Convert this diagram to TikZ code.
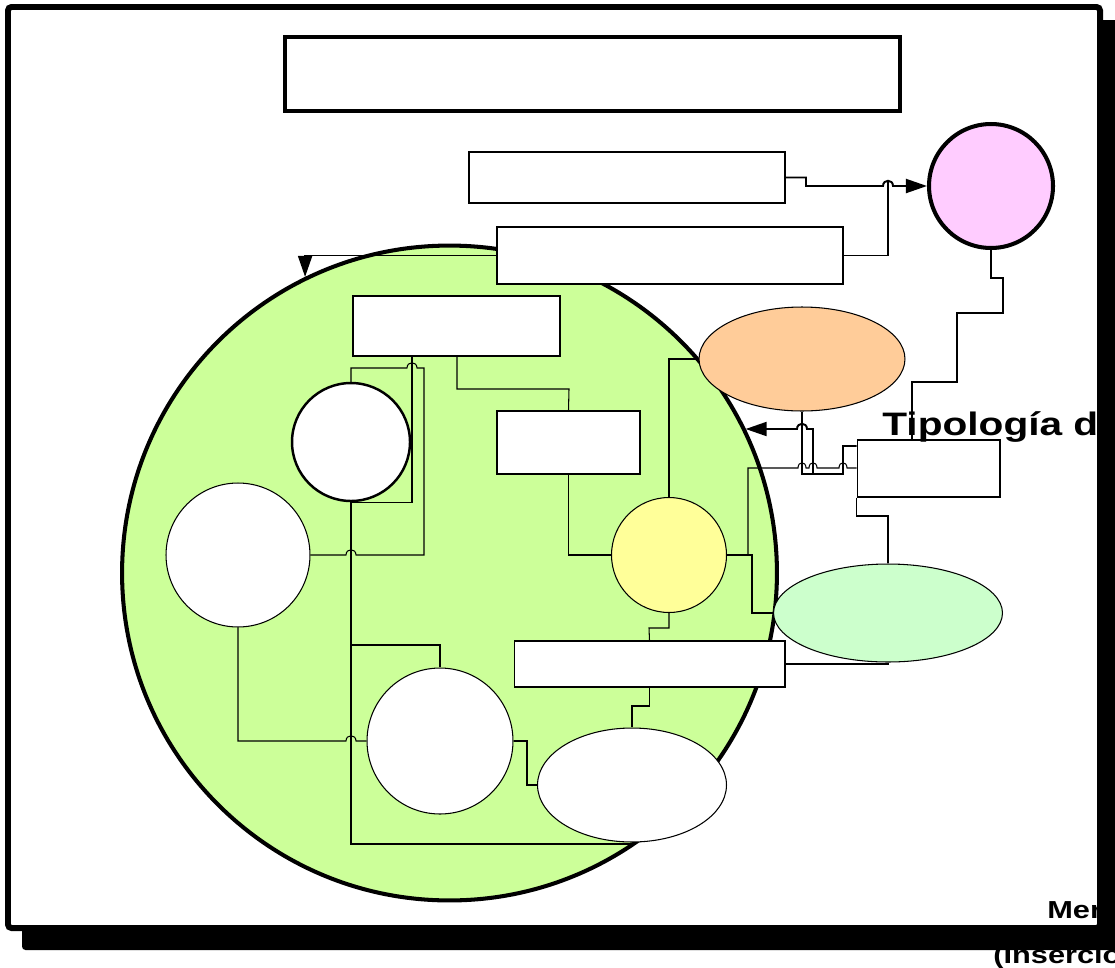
\documentclass[tikz,border=0pt]{standalone}
\usepackage{fontspec}
\newfontfamily\tagfont[FakeStretch=1.25]{Liberation Sans}
\usetikzlibrary{shapes.geometric,arrows.meta}
\definecolor{pinkfill}{HTML}{FFCCFF}
\definecolor{limefill}{HTML}{CCFF99}
\definecolor{lemonfill}{HTML}{FFFF99}
\definecolor{peachfill}{HTML}{FFCC99}
\definecolor{mintfill}{HTML}{CCFFCC}
\begin{document}
\begin{tikzpicture}[x=0.02cm, y=-0.02cm,
  box/.style={draw, fill=white, rectangle, inner sep=0, line width=.6pt},
  bubble/.style={draw, fill=white, circle, inner sep=0, line width=.6pt},
  oval/.style={draw, fill=white, ellipse, inner sep=0, line width=.6pt},
  wire/.style={line width=.6pt},
  thickwire/.style={line width=1.1pt},
  arr/.style={-{Triangle[length=12pt,width=8pt]}},
  tag/.style={anchor=base west, inner sep=0, font=\tagfont\bfseries}]
\useasboundingbox (0,0) rectangle (1115,967);
\clip (0,0) rectangle (1115,967);
% frame with its shadow
\fill[rounded corners=2pt] (22,20) rectangle (1130,950);
\draw[line width=3.4pt, fill=white, rounded corners=2pt] (8,7) rectangle (1100,928);
% shapes
\node[bubble, fill=limefill, line width=2.3pt, minimum size=13.1cm] (G) at (449.5,573) {};
\node[box, line width=2.3pt, minimum width=12.3cm, minimum height=1.48cm] (title) at (592.5,74) {};
\node[box, line width=1.2pt, minimum width=6.32cm, minimum height=1.02cm] (B1) at (627,177.5) {};
\node[box, line width=1.4pt, minimum width=6.92cm, minimum height=1.14cm] (B2) at (670,255.5) {};
\node[bubble, fill=pinkfill, line width=2.3pt, minimum size=2.48cm] (P) at (991,186) {};
\node[box, minimum width=4.14cm, minimum height=1.2cm] (B3) at (456.5,326) {};
\node[bubble, line width=1.4pt, minimum size=2.36cm] (C1) at (351,442) {};
\node[box, minimum width=2.86cm, minimum height=1.26cm] (B4) at (568.5,442.5) {};
\node[bubble, minimum size=2.88cm] (C2) at (238,555) {};
\node[bubble, fill=lemonfill, minimum size=2.3cm] (Y) at (669,555) {};
\node[oval, fill=peachfill, minimum width=4.12cm, minimum height=2.08cm] (E1) at (802,359) {};
\node[box, minimum width=2.86cm, minimum height=1.14cm] (B5) at (928.5,468.5) {};
\node[oval, fill=mintfill, minimum width=4.58cm, minimum height=1.96cm] (E2) at (888,613) {};
\node[box, minimum width=5.42cm, minimum height=0.92cm] (B6) at (649.5,664) {};
\node[bubble, minimum size=2.92cm] (C4) at (440,741) {};
\node[oval, minimum width=3.78cm, minimum height=2.28cm] (E3) at (632,785) {};
% thick connectors
\draw[thickwire, arr] (B1.east) -| (806,186) -- (883,186)
  .. controls (883,179) and (893,179) .. (893,186) -- (P.west);
\draw[thickwire] (B2.east) -| (888,182);
\draw[thickwire, arr] (B2.west) -| (G.116);
\draw[thickwire] (P.south) |- (1003,278) |- (957,313) |- (912,382) -- (912,0 |- B5.north);
\draw[thickwire, arr] (B5.west |- 0,446) -- (843,446) -- (843,474) -- (813,474) -- (813,429)
  -- (807,429) .. controls (807,422) and (797,422) .. (797,429) -- (G.26 |- 0,429);
% thin connectors
\draw[wire] (E1.south) |- (813,474);
\draw[wire] (Y.east) -| (748,468) -- (798,468)
  .. controls (798,461) and (806,461) .. (806,468) -- (809,468)
  .. controls (809,461) and (817,461) .. (817,468) -- (839,468)
  .. controls (839,461) and (847,461) .. (847,468) -- (B5.west |- 0,468);
\draw[wire] (Y.east) -| (752,613) -- (E2.west);
\draw[wire] (B5.south west) |- (E2.north |- 0,516) -- (E2.north);
\draw[wire] (E2.south) |- (B6.east);
\draw[wire] (Y.south) |- (649,628) -- (B6.north);
\draw[wire] (B6.south) |- (632,706) -- (E3.north);
\draw[wire] (C4.east) -| (527,785) -- (E3.west);
\draw[wire] (C1.south) -- (351,844) -| (E3.south);
\draw[wire] (C1.south) -- (351,645) -| (C4.north);
\draw[wire] (C2.east) -- (346,555) .. controls (346,548) and (356,548) .. (356,555)
  -| (424,368) -- (417,368) .. controls (417,361) and (407,361) .. (407,368) -| (C1.north);
\draw[wire] (412,0 |- B3.south) |- (C1.south);
\draw[wire] (457,0 |- B3.south) |- (569,389) -- (B4.north);
\draw[wire] (B4.south) |- (Y.west);
\draw[wire] (Y.north) |- (E1.west);
\draw[wire] (C2.south) |- (346,741) .. controls (346,734) and (356,734) .. (356,741) -- (C4.west);
% texts
\node[tag, font=\tagfont\bfseries\fontsize{18.5}{22}\selectfont] (tipo) at (882,435) {Tipología d};
\node[tag, font=\tagfont\bfseries\fontsize{14}{17}\selectfont] (mer) at (1047,918) {Mer};
\node[tag, font=\tagfont\bfseries\fontsize{14}{17}\selectfont] (insercio) at (993,963) {(Inserció};
\end{tikzpicture}
\end{document}
